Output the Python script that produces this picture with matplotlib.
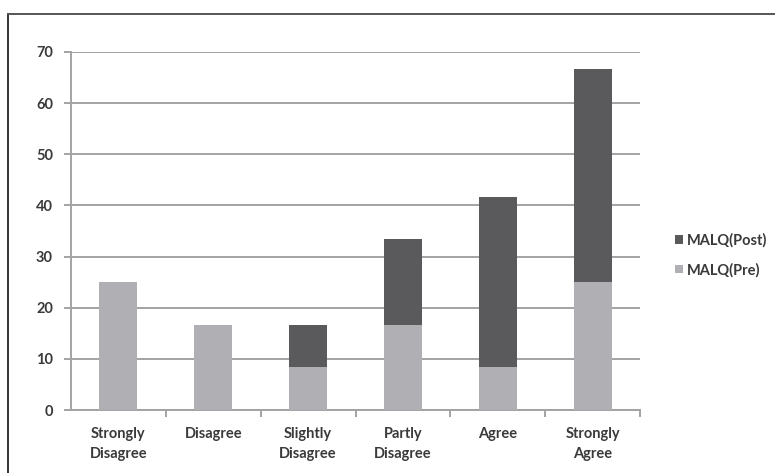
import numpy as np
import matplotlib
matplotlib.use("Agg")
import matplotlib.pyplot as plt
from matplotlib.lines import Line2D

# Response categories and MALQ scores (%)
categories = ["Strongly\nDisagree", "Disagree", "Slightly\nDisagree",
              "Partly\nDisagree", "Agree", "Strongly\nAgree"]
malq_pre = [25.0, 16.67, 8.33, 16.67, 8.33, 25.0]
malq_post = [0.0, 0.0, 8.33, 16.67, 33.33, 41.67]

plt.rcParams["font.family"] = ["Lato", "DejaVu Sans"]
text_color = "#3a3a3a"
grid_color = "#a3a3a3"
pre_color = "#b0b0b4"
post_color = "#5a5a5c"
fs = 10.5

fig = plt.figure(figsize=(7.75, 4.73), dpi=100)
ax = fig.add_axes([71 / 775, 63 / 473, (640 - 71) / 775, (410 - 52) / 473])

x = np.arange(len(categories))
ax.bar(x, malq_pre, width=0.4, color=pre_color, label="MALQ(Pre)", zorder=3)
ax.bar(x, malq_post, width=0.4, bottom=malq_pre, color=post_color,
       label="MALQ(Post)", zorder=3)

ax.set_xlim(-0.5, len(categories) - 0.5)
ax.set_ylim(0, 70)
ax.set_yticks(range(0, 71, 10))
ax.yaxis.grid(True, color=grid_color, linewidth=1.4, zorder=0)

ax.set_xticks(x)
ax.set_xticklabels(categories, fontsize=fs, color=text_color, weight="bold",
                   linespacing=1.6)
ax.set_xticks(np.arange(0.5, len(categories)), minor=True)
ax.tick_params(axis="x", which="major", length=0, pad=12)
ax.tick_params(axis="x", which="minor", length=5, width=1.4, color=grid_color)
ax.tick_params(axis="y", length=5, width=1.4, color=grid_color, pad=8,
               labelsize=fs, labelcolor=text_color)
for lbl in ax.get_yticklabels():
    lbl.set_weight("bold")

for side in ["top", "right"]:
    ax.spines[side].set_visible(False)
for side in ["left", "bottom"]:
    ax.spines[side].set_color(grid_color)
    ax.spines[side].set_linewidth(1.4)

# legend: Post above Pre
handles, labels = ax.get_legend_handles_labels()
leg = ax.legend(handles[::-1], labels[::-1], loc="center left",
                bbox_to_anchor=(1.048, 0.433), frameon=False, borderpad=0,
                handlelength=0.55, handleheight=0.55, handletextpad=0.3,
                labelspacing=1.05, prop={"size": fs, "weight": "bold"})
for t in leg.get_texts():
    t.set_color(text_color)

# outer frame (left and top edges)
fig.add_artist(Line2D([8 / 775, 8 / 775], [0, 1 - 14 / 473],
                      transform=fig.transFigure, color="#333333", lw=1.4))
fig.add_artist(Line2D([8 / 775, 1], [1 - 14 / 473, 1 - 14 / 473],
                      transform=fig.transFigure, color="#555555", lw=1.4))

fig.savefig("out.png", dpi=100)
